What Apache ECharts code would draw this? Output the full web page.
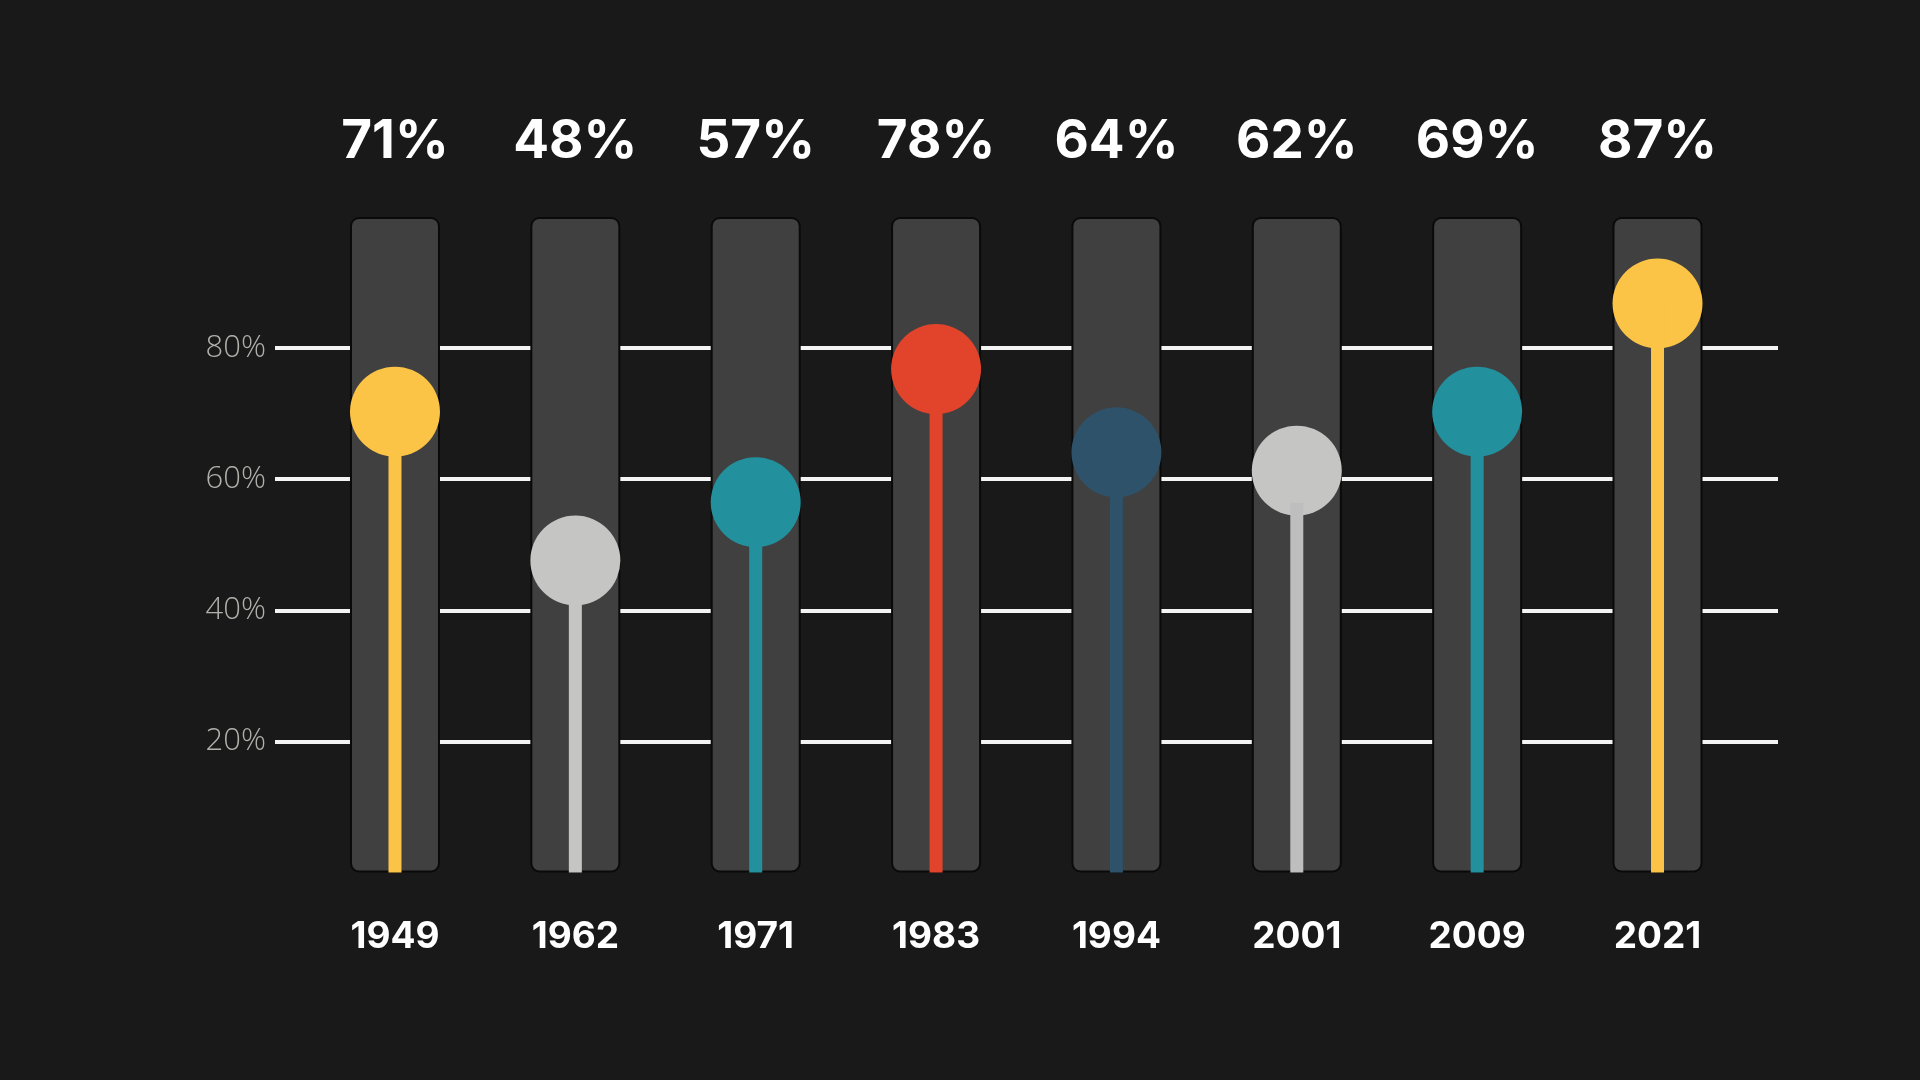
<!DOCTYPE html>
<html>
<head>
<meta charset="utf-8">
<script src="https://cdn.jsdelivr.net/npm/echarts@6/dist/echarts.min.js"></script>
<style>
html,body{margin:0;padding:0;background:#191919;}
#chart{width:1920px;height:1080px;}
</style>
</head>
<body>
<div id="chart"></div>
<script>
// ---- data ----
const years = ['1949', '1962', '1971', '1983', '1994', '2001', '2009', '2021'];
const labelValues = [71, 48, 57, 78, 64, 62, 69, 87];          // printed percentages
const markerValues = [70.3, 47.6, 56.5, 76.8, 64.1, 61.3, 70.3, 86.8]; // dot positions
const stemValues = [70.3, 47.6, 56.5, 76.8, 64.1, 56.4, 70.3, 86.8];   // stem tops
const trackValues = [100, 100, 100, 100, 100, 100, 100, 100];
const yTicks = [0, 20, 40, 60, 80, 100];
const dotColors = ['#FBC447', '#C5C6C4', '#22919D', '#E1432B', '#2E5269', '#C5C6C4', '#22919D', '#FBC447'];
const stemColors = ['#FBC447', '#C5C6C4', '#22919D', '#E1432B', '#2E5269', '#BEBEBE', '#22919D', '#FBC447'];

const chart = echarts.init(document.getElementById('chart'));
const boldFont = 'Inter';
chart.setOption({
  backgroundColor: '#191919',
  animation: false,
  grid: [
    { left: 304.8, right: 172.3, top: 217, bottom: 207.5 },
    { left: 275, right: 142, top: 217, bottom: 207.5 }
  ],
  xAxis: [
    {
      type: 'category', gridIndex: 0, data: years, position: 'bottom',
      axisLine: { show: false }, axisTick: { show: false },
      axisLabel: { color: '#ffffff', fontFamily: boldFont, fontWeight: 700, fontSize: 37, margin: 46 }
    },
    {
      type: 'category', gridIndex: 0, data: labelValues.map(v => v + '%'), position: 'top',
      axisLine: { show: false }, axisTick: { show: false },
      axisLabel: { color: '#ffffff', fontFamily: boldFont, fontWeight: 700, fontSize: 53, margin: 48 }
    },
    {
      type: 'value', gridIndex: 1, show: false, min: 0, max: 1
    }
  ],
  yAxis: [
    {
      type: 'value', gridIndex: 0, min: yTicks[0], max: yTicks[yTicks.length - 1], interval: 20,
      show: false
    },
    {
      type: 'value', gridIndex: 1, min: yTicks[0], max: yTicks[yTicks.length - 1], interval: 20,
      axisLine: { show: false }, axisTick: { show: false },
      axisLabel: {
        color: '#B0B0AC', fontFamily: 'Open Sans', fontWeight: 300, fontSize: 31, margin: 9,
        formatter: v => (v === 0 || v === 100) ? '' : v + '%'
      },
      splitLine: { show: true, showMinLine: false, showMaxLine: false, lineStyle: { color: '#F4F4F4', width: 4 } }
    }
  ],
  series: [
    {
      type: 'bar', xAxisIndex: 0, yAxisIndex: 0, data: trackValues, barWidth: 90, z: 2,
      itemStyle: { color: '#404040', borderColor: '#0A0A0A', borderWidth: 2, borderRadius: 8 }
    },
    {
      type: 'scatter', xAxisIndex: 1, yAxisIndex: 0, symbol: 'circle', symbolSize: 90, z: 3,
      data: markerValues.map((v, i) => ({ value: v, itemStyle: { color: dotColors[i], opacity: 1 } }))
    },
    {
      type: 'bar', xAxisIndex: 1, yAxisIndex: 0, barWidth: 13, z: 4,
      data: stemValues.map((v, i) => ({ value: v, itemStyle: { color: stemColors[i] } }))
    }
  ]
});
</script>
</body>
</html>
